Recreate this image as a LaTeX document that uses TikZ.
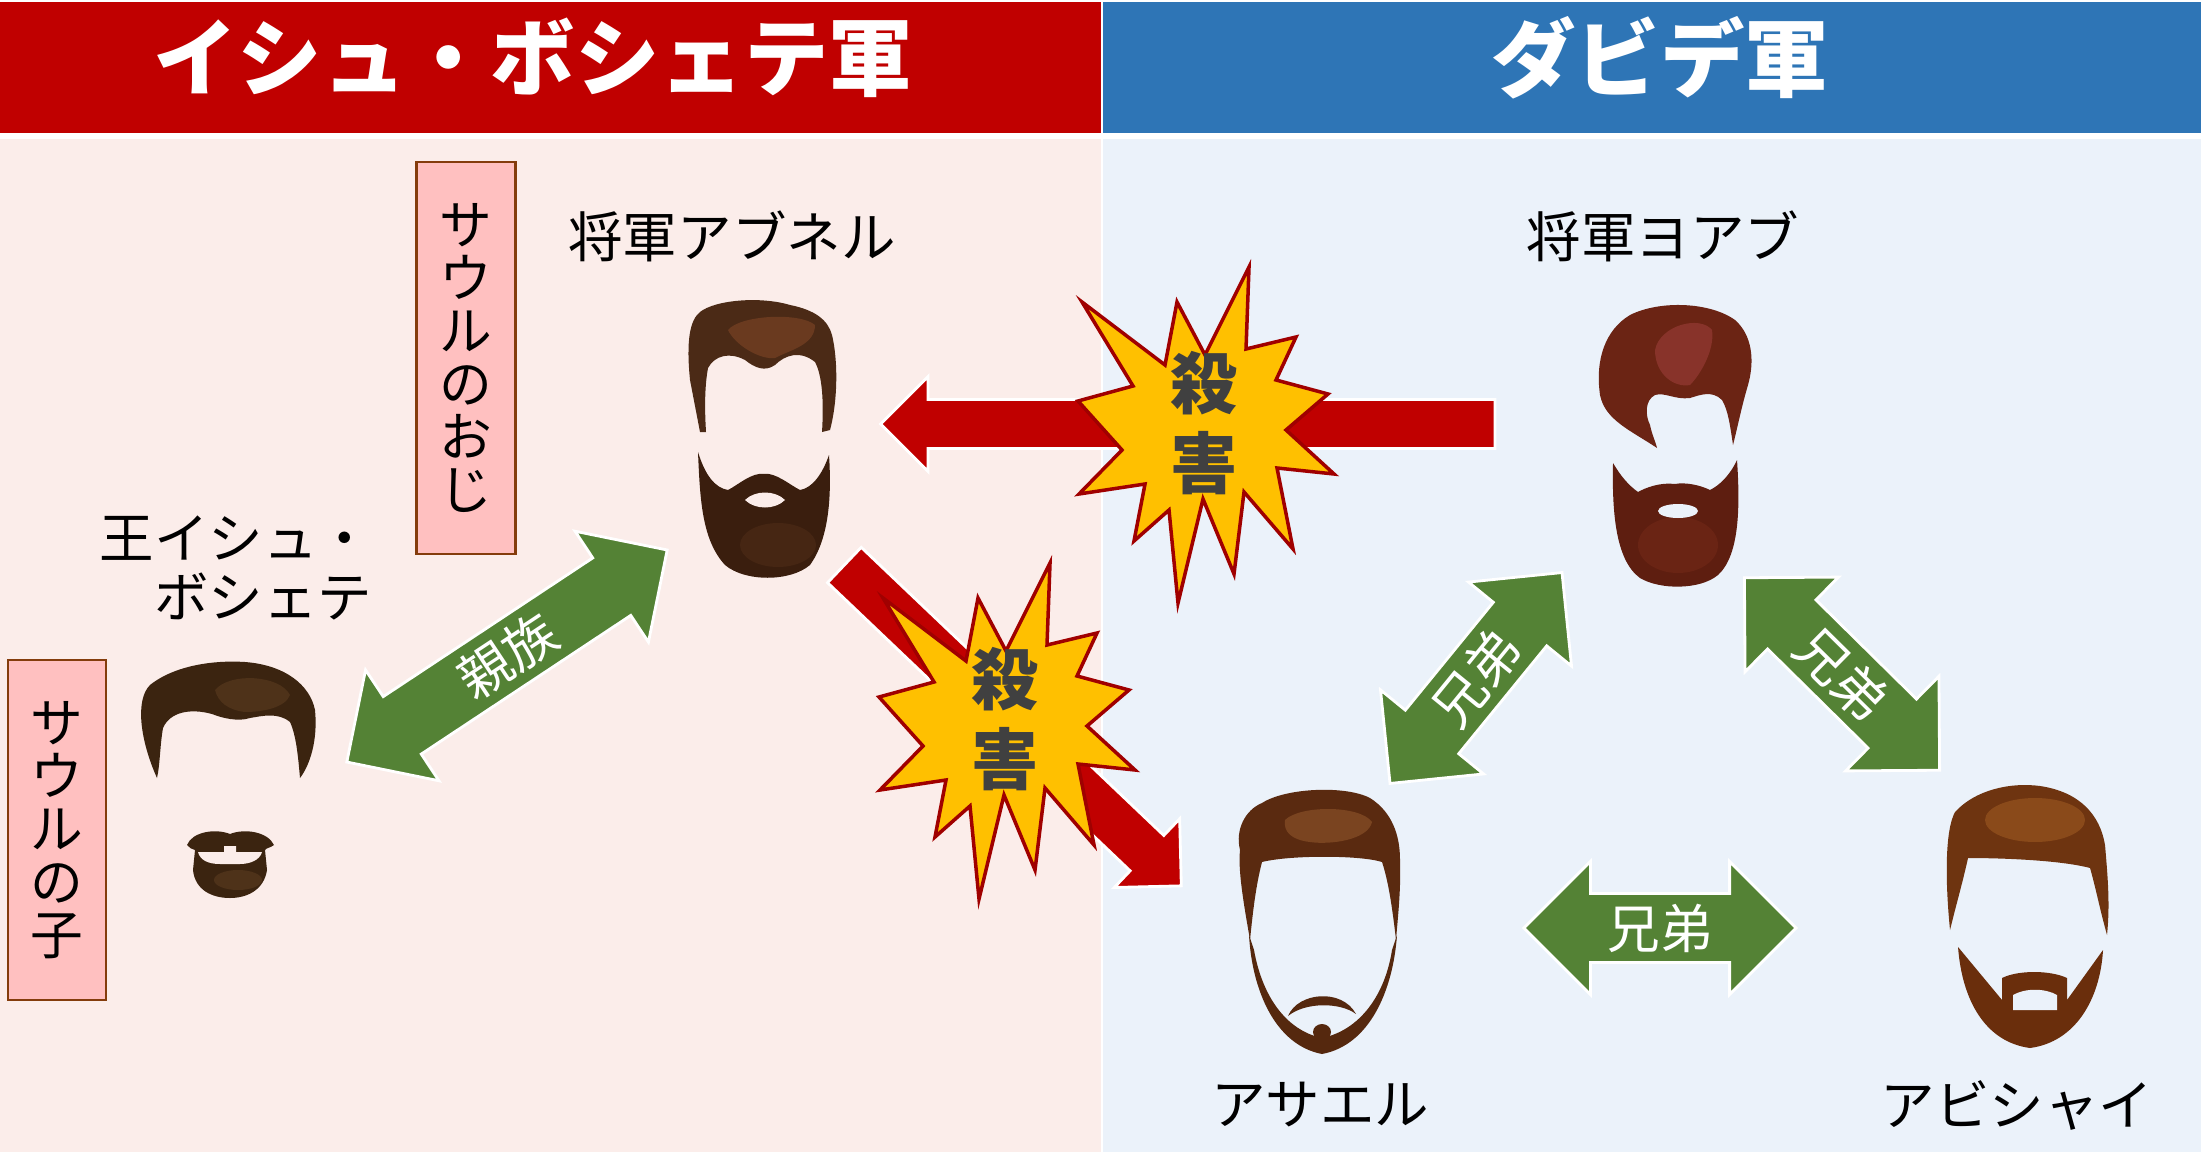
\documentclass[tikz,border=0pt]{standalone}
\usepackage{fontspec}
\setmainfont{Noto Sans CJK JP}
\usepackage{xcolor}
\usepackage{tikz}
\usetikzlibrary{shapes.arrows}
\definecolor{headred}{RGB}{192,0,0}
\definecolor{headblue}{RGB}{46,117,182}
\definecolor{ishbg}{RGB}{251,237,234}
\definecolor{davidbg}{RGB}{235,242,250}
\definecolor{kingreen}{RGB}{84,130,53}
\definecolor{killred}{RGB}{192,0,0}
\definecolor{burstfill}{RGB}{255,192,0}
\definecolor{burstline}{RGB}{160,0,0}
\definecolor{notefill}{RGB}{255,192,192}
\definecolor{noteline}{RGB}{132,60,12}
\definecolor{killtext}{RGB}{64,64,64}
% hair and beard tones
\definecolor{abhair}{RGB}{75,42,22}
\definecolor{abhairlt}{RGB}{106,58,31}
\definecolor{abbeard}{RGB}{58,30,14}
\definecolor{abbeardlt}{RGB}{70,38,19}
\definecolor{ishhair}{RGB}{59,36,16}
\definecolor{ishhairlt}{RGB}{78,50,25}
\definecolor{ashair}{RGB}{90,42,16}
\definecolor{ashairlt}{RGB}{122,68,32}
\definecolor{asbeard}{RGB}{85,40,14}
\definecolor{abihair}{RGB}{110,52,16}
\definecolor{abihairlt}{RGB}{138,74,26}
\definecolor{abibeard}{RGB}{106,46,12}
\definecolor{joabhair}{RGB}{107,36,20}
\definecolor{joabhairlt}{RGB}{136,51,42}
\definecolor{joabbeard}{RGB}{94,30,16}
\definecolor{joabbeardlt}{RGB}{106,36,20}

\tikzset{
  burst/.pic={
    \filldraw[fill=burstfill,draw=burstline,line width=1pt]
      (45,-156) -- (42,-74) -- (92,-86) -- (72,-43) -- (124,-29) -- (82,7)
      -- (130,51) -- (73,45) -- (89,126) -- (40,69) -- (30,151) -- (-1,76)
      -- (-26,180) -- (-35,87) -- (-70,118) -- (-59,61) -- (-125,71) -- (-82,27)
      -- (-126,-22) -- (-71,-37) -- (-122,-121) -- (-39,-58) -- (-27,-121) -- (1,-68)
      -- cycle;
  }
}

\begin{document}
\begin{tikzpicture}[x=0.01cm,y=-0.01cm,
    namelabel/.style={font=\fontsize{15.5}{17}\selectfont,text=black,inner sep=0pt},
    headtext/.style={font=\bfseries\fontsize{24}{28}\selectfont,text=white},
    killlabel/.style={font=\bfseries\fontsize{19}{22.8}\selectfont,text=killtext,align=center},
    notebox/.style={draw=noteline,fill=notefill,line width=0.6pt,align=center,
      font=\fontsize{15}{15.1}\selectfont,inner sep=0pt},
    kinarrow/.style={double arrow,double arrow head extend=0.32cm,
      text height=15.1pt,text depth=3.7pt,inner xsep=1pt,inner ysep=0pt,
      fill=kingreen,draw=white,line width=0.8pt,text=white,
      font=\fontsize{15}{15}\selectfont},
    killarrow/.style={single arrow,single arrow head extend=0.23cm,
      inner xsep=0pt,inner ysep=0.23cm,
      fill=killred,draw=white,line width=0.8pt}]
  \useasboundingbox (0,0) rectangle (2201,1152);
  \fill[white] (0,0) rectangle (2201,1152);

  % Headers and panels
  \fill[headred] (0,2) rectangle (1101,133);
  \fill[headblue] (1103,2) rectangle (2201,133);
  \fill[ishbg] (0,139) rectangle (1101,1152);
  \fill[davidbg] (1103,139) rectangle (2201,1152);
  \node[headtext] (ishhead) at (533,58) {イシュ・ボシェテ軍};
  \node[headtext] (davidhead) at (1660,58) {ダビデ軍};

  % Killings
  \node[killarrow,minimum height=6.14cm,rotate=180] (killabner) at (1200,424) {};
  \node[killarrow,minimum height=4.65cm,rotate=-43.6] (killasahel) at (1004,717) {};
  \pic at (1204,423) {burst};
  \pic at (1005,719) {burst};
  \node[killlabel] (killtop) at (1204,423) {殺\\害};
  \node[killlabel] (killlow) at (1005,719) {殺\\害};

  % Abner
  \fill[abhair] (700,432) -- (690,380) .. controls (686,340) and (690,320) .. (700,312)
    .. controls (715,300) and (760,296) .. (790,305)
    .. controls (815,310) and (828,320) .. (832,335)
    .. controls (838,360) and (838,400) .. (830,430)
    -- (822,432) .. controls (824,400) and (822,375) .. (815,362)
    .. controls (800,350) and (785,355) .. (775,365)
    .. controls (765,372) and (755,368) .. (745,360)
    .. controls (730,352) and (715,355) .. (708,368)
    .. controls (704,390) and (705,415) .. (706,432) -- cycle;
  \fill[abhairlt] (728,330) .. controls (740,315) and (800,312) .. (815,325)
    .. controls (815,345) and (790,350) .. (775,358)
    .. controls (760,360) and (735,345) .. (728,330) -- cycle;
  \fill[abbeard] (698,452) .. controls (700,500) and (702,540) .. (725,565)
    .. controls (745,582) and (790,582) .. (810,565)
    .. controls (828,540) and (832,500) .. (829,455)
    .. controls (822,475) and (812,488) .. (800,490)
    .. controls (790,485) and (775,472) .. (764,474)
    .. controls (752,472) and (738,485) .. (728,490)
    .. controls (715,488) and (705,475) .. (698,452) -- cycle;
  \fill[abbeardlt] (778,545) ellipse [x radius=38,y radius=22];
  \fill[ishbg] (745,500) .. controls (755,490) and (775,490) .. (785,500)
    .. controls (775,510) and (755,510) .. (745,500) -- cycle;

  % Ish-bosheth
  \fill[ishhair] (157,778) .. controls (140,740) and (135,700) .. (150,685)
    .. controls (175,665) and (215,660) .. (245,662)
    .. controls (285,665) and (310,685) .. (315,710)
    .. controls (318,740) and (310,765) .. (300,778)
    .. controls (298,755) and (296,735) .. (290,722)
    .. controls (278,712) and (262,716) .. (250,718)
    .. controls (238,722) and (222,718) .. (212,714)
    .. controls (190,708) and (170,712) .. (163,728)
    .. controls (160,745) and (160,765) .. (157,778) -- cycle;
  \fill[ishhairlt] (215,690) .. controls (230,672) and (280,675) .. (290,695)
    .. controls (285,708) and (262,712) .. (245,712)
    .. controls (228,710) and (218,702) .. (215,690) -- cycle;
  \fill[ishhair] (187,845) .. controls (192,832) and (215,828) .. (230,834)
    .. controls (245,828) and (268,832) .. (274,845)
    .. controls (270,848) and (266,848) .. (265,850) -- (267,870)
    .. controls (264,890) and (247,898) .. (230,898)
    .. controls (212,898) and (195,890) .. (193,870) -- (195,850)
    .. controls (192,849) and (189,848) .. (187,845) -- cycle;
  \fill[ishhairlt] (238,880) ellipse [x radius=24,y radius=10];
  \fill[ishbg] (198,852) -- (224,852) -- (224,846) -- (236,846) -- (236,852) -- (262,852)
    .. controls (260,860) and (250,864) .. (240,864) -- (220,864)
    .. controls (208,864) and (200,860) .. (198,852) -- cycle;

  % Joab
  \fill[joabhair] (1657,448) .. controls (1630,430) and (1605,420) .. (1600,395)
    .. controls (1595,360) and (1605,330) .. (1630,315)
    .. controls (1660,300) and (1710,302) .. (1735,320)
    .. controls (1752,335) and (1755,360) .. (1748,385)
    .. controls (1742,405) and (1738,425) .. (1733,445)
    .. controls (1730,425) and (1728,410) .. (1722,400)
    .. controls (1712,390) and (1700,395) .. (1690,398)
    .. controls (1675,400) and (1665,392) .. (1655,395)
    .. controls (1645,400) and (1645,415) .. (1650,425)
    .. controls (1652,435) and (1655,440) .. (1657,448) -- cycle;
  \fill[joabhairlt] (1655,350) .. controls (1660,325) and (1700,315) .. (1712,330)
    .. controls (1715,350) and (1700,375) .. (1690,385)
    .. controls (1675,388) and (1655,375) .. (1655,350) -- cycle;
  \fill[joabbeard] (1613,463) .. controls (1612,510) and (1615,560) .. (1640,578)
    .. controls (1660,590) and (1700,590) .. (1718,575)
    .. controls (1740,555) and (1740,505) .. (1737,460)
    .. controls (1730,475) and (1720,485) .. (1710,490)
    .. controls (1700,485) and (1685,482) .. (1675,484)
    .. controls (1660,482) and (1645,488) .. (1638,492)
    .. controls (1628,485) and (1620,475) .. (1613,463) -- cycle;
  \fill[joabbeardlt] (1678,545) ellipse [x radius=40,y radius=28];
  \fill[davidbg] (1678,511) ellipse [x radius=20,y radius=7];

  % Asahel
  \fill[ashair] (1250,940) .. controls (1243,900) and (1238,870) .. (1240,850)
    .. controls (1235,830) and (1245,810) .. (1262,803)
    .. controls (1285,788) and (1345,785) .. (1370,798)
    .. controls (1392,812) and (1400,835) .. (1400,860)
    .. controls (1401,890) and (1398,915) .. (1396,940)
    .. controls (1392,905) and (1388,880) .. (1382,862)
    .. controls (1360,855) and (1290,855) .. (1262,862)
    .. controls (1256,885) and (1253,910) .. (1250,940) -- cycle;
  \fill[ashairlt] (1285,820) .. controls (1300,805) and (1360,805) .. (1372,822)
    .. controls (1368,840) and (1330,845) .. (1310,842)
    .. controls (1292,840) and (1283,832) .. (1285,820) -- cycle;
  \fill[asbeard] (1249,935) .. controls (1252,990) and (1275,1045) .. (1322,1054)
    .. controls (1370,1045) and (1393,990) .. (1397,935)
    -- (1392,950) .. controls (1385,995) and (1360,1030) .. (1322,1038)
    .. controls (1285,1030) and (1262,995) .. (1254,950) -- cycle;
  \fill[asbeard] (1288,1016) .. controls (1298,992) and (1342,988) .. (1356,1014)
    .. controls (1340,1002) and (1305,1002) .. (1288,1016) -- cycle;
  \fill[asbeard] (1322,1032) ellipse [x radius=9,y radius=8];

  % Abishai
  \fill[abihair] (1950,930) .. controls (1945,880) and (1945,830) .. (1955,812)
    .. controls (1975,790) and (2010,782) .. (2040,786)
    .. controls (2080,792) and (2100,815) .. (2105,845)
    .. controls (2108,880) and (2110,905) .. (2107,935)
    .. controls (2100,910) and (2095,885) .. (2090,868)
    .. controls (2060,860) and (2000,858) .. (1968,858)
    .. controls (1962,885) and (1956,905) .. (1950,930) -- cycle;
  \fill[abihairlt] (2035,820) ellipse [x radius=50,y radius=22];
  \fill[abibeard] (1958,947) .. controls (1962,1000) and (1985,1042) .. (2030,1048)
    .. controls (2075,1042) and (2100,1000) .. (2103,950)
    -- (2067,1000) -- (2067,978) .. controls (2050,970) and (2018,970) .. (2002,978)
    -- (2002,1000) -- cycle;
  \fill[davidbg] (2013,1010) -- (2013,995) .. controls (2025,988) and (2045,988) .. (2057,995)
    -- (2057,1010) -- cycle;

  % Relations
  \node[kinarrow,minimum height=3.84cm,rotate=33.5] (kinship) at (507,656) {親族};
  \node[kinarrow,minimum height=2.72cm,rotate=50.8] (brotherleft) at (1476,678) {兄弟};
  \node[kinarrow,minimum height=2.74cm,rotate=-44.6] (brotherright) at (1842,674) {兄弟};
  \node[kinarrow,minimum height=2.72cm] (brotherlow) at (1660,928) {兄弟};

  % Names and notes
  \node[namelabel] (abnername) at (732,236) {将軍アブネル};
  \node[namelabel] (joabname) at (1663,236) {将軍ヨアブ};
  \node[namelabel,align=right] (ishname) at (236,568) {王イシュ・\\ボシェテ};
  \node[namelabel] (asahelname) at (1320,1105) {アサエル};
  \node[namelabel] (abishainame) at (2017,1105) {アビシャイ};
  \node[notebox,minimum width=0.99cm,minimum height=3.91cm] (uncle) at (466,358)
    {サ\\ウ\\ル\\の\\お\\じ};
  \node[notebox,minimum width=0.98cm,minimum height=3.40cm] (son) at (57,830)
    {サ\\ウ\\ル\\の\\子};
\end{tikzpicture}
\end{document}
